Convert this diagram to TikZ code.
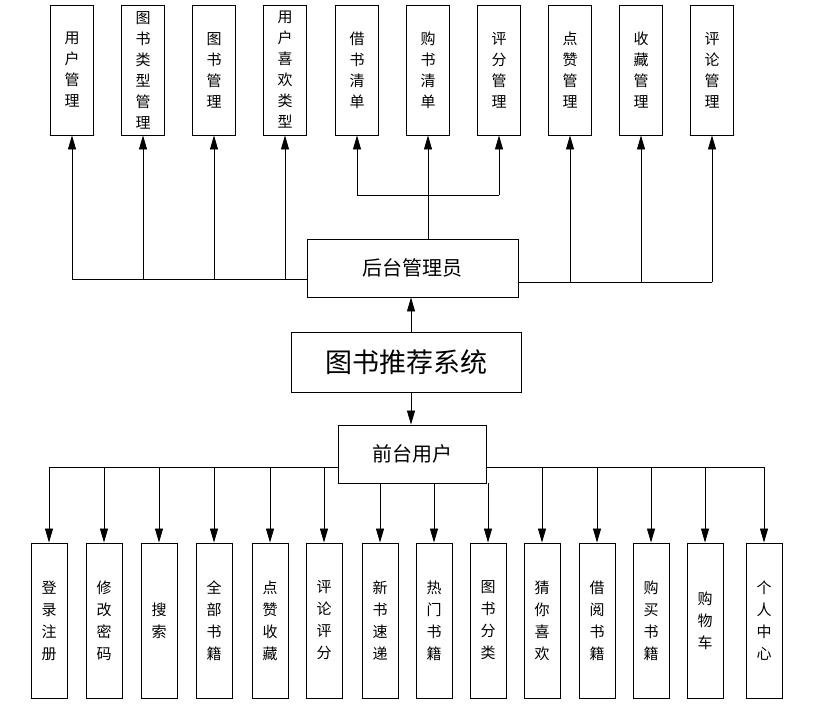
\documentclass[tikz,border=0pt]{standalone}
\usepackage{fontspec}
\setmainfont{Noto Sans CJK SC}
\usetikzlibrary{arrows.meta}
\begin{document}
\begin{tikzpicture}[x=1pt,y=-1pt,
  vbox/.style={draw,line width=0.9pt,minimum width=43pt,minimum height=130pt,inner sep=0pt,align=center,font=\fontsize{15}{21}\selectfont},
  bbox/.style={draw,line width=0.9pt,minimum width=36pt,minimum height=155pt,inner sep=0pt,align=center,font=\fontsize{15}{22}\selectfont},
  conn/.style={line width=0.8pt},
  arr/.style={line width=0.8pt,-{Triangle[length=14pt,width=8pt]}}]
\useasboundingbox (0,0) rectangle (818,709);
% top boxes
\foreach \n/\x/\t in {t1/72/用\\户\\管\\理, t2/143/图\\书\\类\\型\\管\\理, t3/214/图\\书\\管\\理, t4/285/用\\户\\喜\\欢\\类\\型, t5/357/借\\书\\清\\单, t6/428/购\\书\\清\\单, t7/499/评\\分\\管\\理, t8/570/点\\赞\\管\\理, t9/641/收\\藏\\管\\理, t10/712/评\\论\\管\\理}
  \node[vbox] (\n) at (\x,70) {\t};
\node[draw,line width=0.9pt,minimum width=211pt,minimum height=58pt,font=\fontsize{20}{22}\selectfont] (adm) at (412.5,268) {后台管理员};
\node[draw,line width=0.9pt,minimum width=230pt,minimum height=60pt,font=\fontsize{27}{30}\selectfont] (sys) at (406,362) {图书推荐系统};
\node[draw,line width=0.9pt,minimum width=148pt,minimum height=58pt,font=\fontsize{20}{22}\selectfont] (usr) at (412,454) {前台用户};
% admin connectors
\coordinate (lb) at (72,279);
\draw[conn] (adm.west |- lb) -- (lb);
\foreach \n in {t1,t2,t3,t4} \draw[arr] (\n |- lb) -- (\n.south);
\coordinate (rb) at (712,282);
\draw[conn] (adm.east |- rb) -- (rb);
\foreach \n in {t8,t9,t10} \draw[arr] (\n |- rb) -- (\n.south);
\coordinate (mb) at (357,195);
\draw[conn] (t5 |- mb) -- (t7 |- mb);
\draw[conn] (adm.north -| t6) -- (t6 |- mb);
\draw[arr] (t6 |- mb) -- (t6.south);
\draw[arr] (t5 |- mb) -- (t5.south);
\draw[arr] (t7 |- mb) -- (t7.south);
\draw[arr] (sys.north -| 411,0) -- (adm.south -| 411,0);
\draw[arr] (sys.south -| 411,0) -- (usr.north -| 411,0);
% bottom boxes
\foreach \n/\x/\t in {b1/49/登\\录\\注\\册, b2/104/修\\改\\密\\码, b3/159/搜\\索, b4/214/全\\部\\书\\籍, b5/270/点\\赞\\收\\藏, b6/324/评\\论\\评\\分, b7/380/新\\书\\速\\递, b8/434/热\\门\\书\\籍, b9/488/图\\书\\分\\类, b10/542/猜\\你\\喜\\欢, b11/597/借\\阅\\书\\籍, b12/651/购\\买\\书\\籍, b13/705/购\\物\\车, b14/764/个\\人\\中\\心}
  \node[bbox] (\n) at (\x,620.5) {\t};
\coordinate (ll) at (49,467);
\draw[conn] (usr.west |- ll) -- (ll);
\foreach \n in {b1,b2,b3,b4,b5,b6} \draw[arr] (\n |- ll) -- (\n.north);
\coordinate (rl) at (764,467);
\draw[conn] (usr.east |- rl) -- (rl);
\foreach \n in {b10,b11,b12,b13,b14} \draw[arr] (\n |- rl) -- (\n.north);
\foreach \n in {b7,b8,b9} \draw[arr] (usr.south -| \n) -- (\n.north);
\end{tikzpicture}
\end{document}
